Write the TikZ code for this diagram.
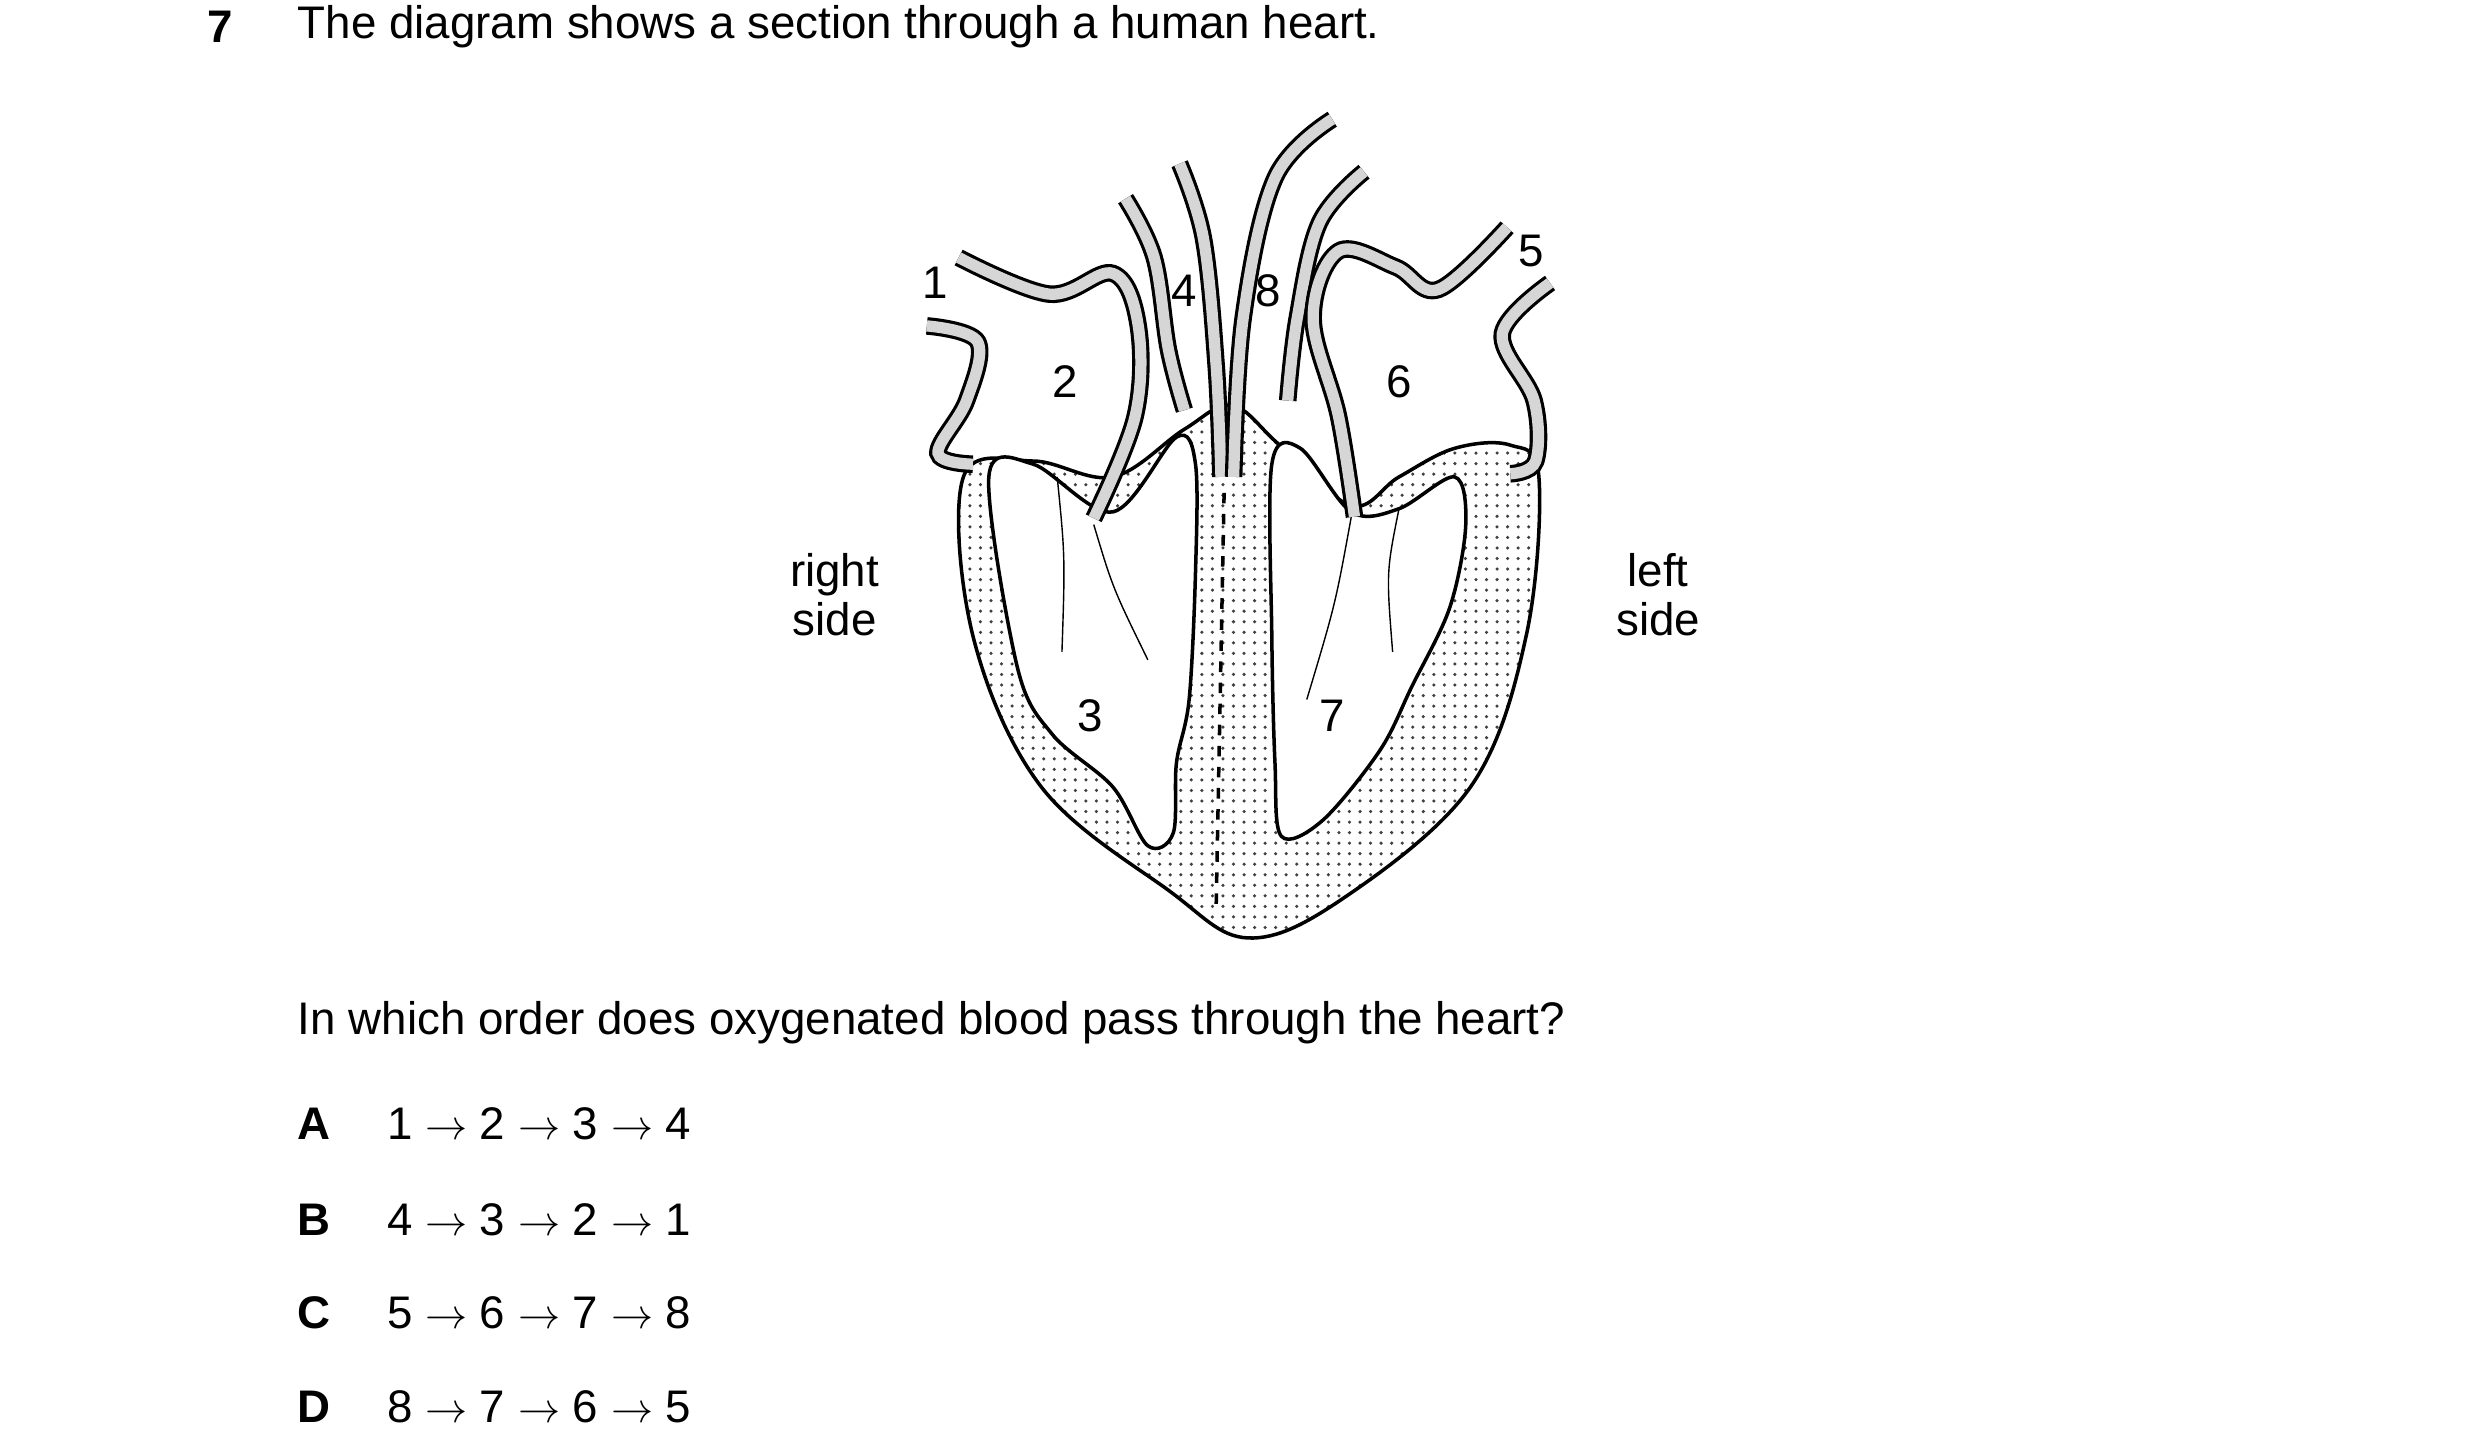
\documentclass[tikz,border=0pt]{standalone}
\usepackage{fontspec}
\setmainfont{Liberation Sans}
\usetikzlibrary{patterns}

\begin{document}
\begin{tikzpicture}[x=0.0159cm, y=-0.0159cm,
  txt/.style={anchor=west, inner sep=0pt, font=\fontsize{13}{15}\selectfont},
  lbl/.style={inner sep=1pt, font=\fontsize{13}{15}\selectfont},
  tube/.style={draw=black, line width=0.9pt, double=black!16, double distance=3.2pt},
  muscle/.style={draw=black, line width=1pt, pattern=dots, pattern color=black!75},
  cavity/.style={draw=black, line width=1pt, fill=white},
  valve/.style={draw=black, line width=0.4pt}]
  \useasboundingbox (0,0) rectangle (1560,915);

  % question text
  \node[txt, font=\bfseries\fontsize{13}{15}\selectfont] (qnum) at (130,17) {7};
  \node[txt] (qtext) at (187,17) {The diagram shows a section through a human heart.};

  % heart body and chambers
  \draw[muscle] plot[smooth cycle, tension=0.6] coordinates {(606,300) (612,400) (655,495) (735,560) (785,590)
    (845,565) (925,495) (960,400) (968,300) (950,280) (915,282) (880,300) (850,318) (805,280)
    (775,255) (745,270) (700,300) (650,290)};
  \draw[cavity] plot[smooth cycle, tension=0.55] coordinates {(622,300) (640,420) (662,462) (700,495)
    (722,532) (738,524) (740,480) (748,440) (752,360) (752,292) (740,275) (700,322) (650,292)};
  \draw[cavity] plot[smooth cycle, tension=0.55] coordinates {(800,292) (800,400) (802,480) (806,526)
    (832,516) (868,472) (888,432) (912,382) (922,330) (915,300) (880,320) (850,322) (818,282)};
  \draw[valve, dashed, line width=1pt] (770,310) -- (765,570);

  % valves
  \draw[valve] (688,330) .. controls (700,370) .. (722,415);
  \draw[valve] (665,300) .. controls (670,350) .. (668,410);
  \draw[valve] (850,325) .. controls (840,380) .. (822,440);
  \draw[valve] (880,320) .. controls (872,360) .. (876,410);

  % vessels and atria walls
  \draw[tube] plot[smooth, tension=0.6] coordinates {(603,162) (660,185) (700,172) (716,205) (714,262) (688,326)};
  \draw[tube] plot[smooth, tension=0.6] coordinates {(583,205) (615,215) (608,252) (590,285) (612,292)};
  \draw[tube] plot[smooth, tension=0.6] coordinates {(708,125) (726,162) (735,220) (745,258)};
  \draw[tube] plot[smooth, tension=0.6] coordinates {(742,103) (757,150) (765,230) (768,300)};
  \draw[tube] plot[smooth, tension=0.6] coordinates {(838,75) (802,112) (782,200) (776,300)};
  \draw[tube] plot[smooth, tension=0.6] coordinates {(858,108) (830,140) (816,200) (810,252)};
  \draw[tube] plot[smooth, tension=0.6] coordinates {(948,143) (905,182) (878,168) (842,158) (826,200) (842,262) (852,325)};
  \draw[tube] plot[smooth, tension=0.6] coordinates {(975,178) (945,210) (965,252) (966,290) (950,298)};

  % labels
  \node[lbl] (l1) at (588,178) {1};
  \node[lbl] (l2) at (670,240) {2};
  \node[lbl] (l3) at (686,450) {3};
  \node[lbl] (l4) at (745,183) {4};
  \node[lbl] (l8) at (798,183) {8};
  \node[lbl] (l6) at (880,240) {6};
  \node[lbl] (l5) at (963,158) {5};
  \node[lbl] (l7) at (838,450) {7};
  \node[lbl, align=center, font=\fontsize{13}{14}\selectfont] (right) at (525,374) {right\\side};
  \node[lbl, align=center, font=\fontsize{13}{14}\selectfont] (left) at (1043,374) {left\\side};

  % answers
  \node[txt] (ask) at (187,643) {In which order does oxygenated blood pass through the heart?};
  \foreach \k/\y/\s in {A/707/{1 $\rightarrow$ 2 $\rightarrow$ 3 $\rightarrow$ 4},
                        B/767/{4 $\rightarrow$ 3 $\rightarrow$ 2 $\rightarrow$ 1},
                        C/826/{5 $\rightarrow$ 6 $\rightarrow$ 7 $\rightarrow$ 8},
                        D/885/{8 $\rightarrow$ 7 $\rightarrow$ 6 $\rightarrow$ 5}} {
    \node[txt, font=\bfseries\fontsize{13}{15}\selectfont] (opt\k) at (187,\y) {\k};
    \node[txt] (seq\k) at (243,\y) {\s};
  }
\end{tikzpicture}
\end{document}
